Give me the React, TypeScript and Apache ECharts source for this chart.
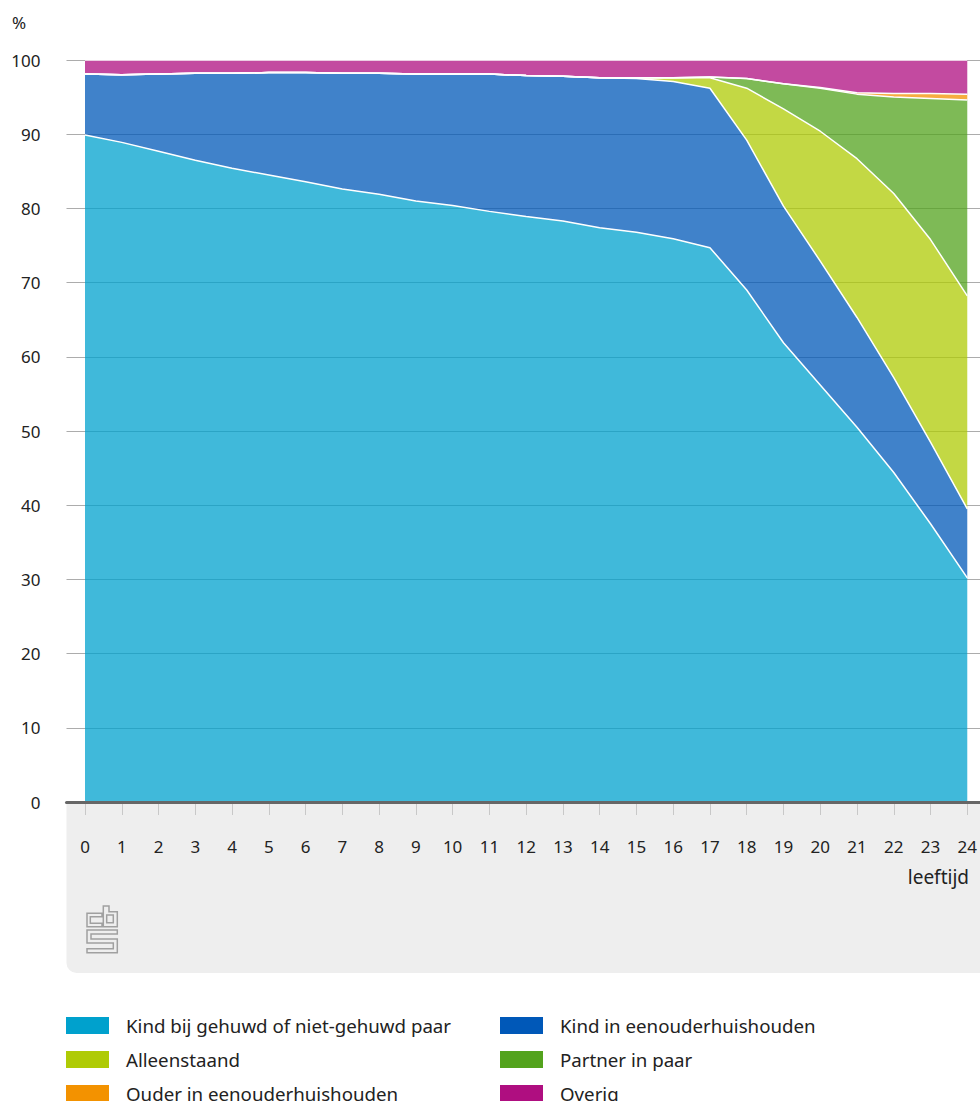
import React, { useEffect, useRef } from "react";
import * as echarts from "echarts";

const ages = [0, 1, 2, 3, 4, 5, 6, 7, 8, 9, 10, 11, 12, 13, 14, 15, 16, 17, 18, 19, 20, 21, 22, 23, 24];

const kindPaar = [89.9, 88.9, 87.7, 86.5, 85.4, 84.5, 83.6, 82.6, 81.9, 81.0, 80.4, 79.6, 78.9, 78.3, 77.4, 76.8, 75.9, 74.7, 69.0, 61.9, 56.2, 50.5, 44.4, 37.5, 30.2];
const kindEenouder = [8.2, 9.1, 10.4, 11.7, 12.8, 13.8, 14.7, 15.6, 16.3, 17.1, 17.7, 18.5, 19.0, 19.5, 20.2, 20.7, 21.2, 21.5, 20.2, 18.4, 16.7, 14.8, 12.8, 11.0, 9.3];
const alleenstaand = [0, 0, 0, 0, 0, 0, 0, 0, 0, 0, 0, 0, 0, 0, 0, 0.1, 0.5, 1.4, 7.0, 13.1, 17.5, 21.4, 24.8, 27.3, 28.7];
const partner = [0, 0, 0, 0, 0, 0, 0, 0, 0, 0, 0, 0, 0, 0, 0, 0, 0, 0.1, 1.3, 3.4, 5.8, 8.7, 13.0, 19.0, 26.4];
const ouder = [0, 0, 0, 0, 0, 0, 0, 0, 0, 0, 0, 0, 0, 0, 0, 0, 0, 0, 0, 0, 0.1, 0.2, 0.5, 0.7, 0.8];
const overig = [1.9, 2.0, 1.9, 1.8, 1.8, 1.7, 1.7, 1.8, 1.8, 1.9, 1.9, 1.9, 2.1, 2.2, 2.4, 2.4, 2.4, 2.3, 2.5, 3.2, 3.7, 4.4, 4.5, 4.5, 4.6];

const seriesNames = [
  "Kind bij gehuwd of niet-gehuwd paar",
  "Kind in eenouderhuishouden",
  "Alleenstaand",
  "Partner in paar",
  "Ouder in eenouderhuishouden",
  "Overig",
];
const seriesColors = ["#00a1cd", "#0058b8", "#afcb05", "#53a31d", "#f39200", "#af0e80"];
const seriesValues = [kindPaar, kindEenouder, alleenstaand, partner, ouder, overig];

const FONT = "'Noto Sans', 'DejaVu Sans', sans-serif";

const logoPath =
  "M15 7.3 H0 V20.7 H15 V17.3 H3.3 V10.7 H15 Z " +
  "M16.3 0 H22 V5.7 H30.3 V20.7 H16.3 Z M19.7 9 V16.7 H26.3 V9 Z " +
  "M0 24 H30.3 V28 H4 V33 H30.3 V46.7 H0 V42.7 H26.3 V37 H0 Z";

echarts.graphic.registerShape("cbslogo", echarts.graphic.extendPath(logoPath, {}));

export default function App() {
  const ref = useRef<HTMLDivElement>(null);

  useEffect(() => {
    document.body.style.margin = "0";
    if (!ref.current) return;
    const chart = echarts.init(ref.current, null, { renderer: "svg" });

    const series = seriesNames.map((name, i) => ({
      name,
      type: "line",
      stack: "total",
      xAxisIndex: 1,
      yAxisIndex: 1,
      data: seriesValues[i],
      showSymbol: false,
      symbol: "none",
      itemStyle: { color: seriesColors[i] },
      lineStyle: { color: "#ffffff", width: 1.5 },
      areaStyle: { color: seriesColors[i], opacity: 0.75 },
      z: 2,
    }));

    const legendText = {
      fontFamily: FONT,
      fontSize: 18.7,
      color: "#222",
      padding: [0, 0, 0, 12],
    };

    const legendPos = [
      { left: 66, top: 1016 },
      { left: 500, top: 1016 },
      { left: 66, top: 1050 },
      { left: 500, top: 1050 },
      { left: 66, top: 1084 },
      { left: 500, top: 1084 },
    ];
    const legends = seriesNames.map((name, i) => ({
      left: legendPos[i].left,
      top: legendPos[i].top,
      padding: 0,
      itemWidth: 43,
      itemHeight: 17,
      icon: "rect",
      selectedMode: false,
      textStyle: legendText,
      data: [{ name, itemStyle: { color: seriesColors[i], opacity: 1 } }],
    }));

    chart.setOption({
      animation: false,
      grid: [
        { left: 66.5, right: 0, top: 60, bottom: 299, containLabel: false },
        { left: 85, right: 9, top: 60, bottom: 299, containLabel: false },
      ],
      xAxis: [
        {
          gridIndex: 0,
          type: "value",
          min: 0,
          max: 1,
          axisLine: { show: true, onZero: false, lineStyle: { color: "#666", width: 3 } },
          axisTick: { show: false },
          axisLabel: { show: false },
          splitLine: { show: false },
          z: 5,
        },
        {
          gridIndex: 1,
          type: "category",
          data: ages,
          boundaryGap: false,
          axisLine: { show: false },
          axisTick: {
            show: true,
            interval: 0,
            length: 13,
            lineStyle: { color: "#c8c8c8", width: 1 },
          },
          axisLabel: {
            show: true,
            interval: 0,
            margin: 36,
            fontFamily: FONT,
            fontSize: 17,
            color: "#222",
          },
          splitLine: { show: false },
        },
      ],
      yAxis: [
        {
          gridIndex: 0,
          type: "value",
          min: 0,
          max: 100,
          interval: 10,
          axisLine: { show: false },
          axisTick: { show: false },
          axisLabel: {
            margin: 26,
            fontFamily: FONT,
            fontSize: 17,
            color: "#222",
          },
          splitLine: { show: true, lineStyle: { color: "#acacac", width: 1.2 } },
        },
        {
          gridIndex: 1,
          type: "value",
          min: 0,
          max: 100,
          interval: 10,
          show: false,
          splitLine: { show: false },
        },
      ],
      legend: legends,
      graphic: [
        {
          type: "rect",
          z: -10,
          silent: true,
          shape: { x: 66.5, y: 802, width: 930, height: 171, r: [0, 0, 0, 10] },
          style: { fill: "#eeeeee" },
        },
        {
          type: "text",
          x: 12,
          y: 22,
          style: {
            text: "%",
            fontFamily: FONT,
            fontSize: 17,
            fill: "#222",
            textAlign: "left",
            textVerticalAlign: "middle",
          },
        },
        {
          type: "text",
          x: 969,
          y: 877,
          style: {
            text: "leeftijd",
            fontFamily: FONT,
            fontSize: 19,
            fill: "#222",
            textAlign: "right",
            textVerticalAlign: "middle",
          },
        },
        {
          type: "cbslogo",
          x: 87,
          y: 906,
          scaleX: 1,
          scaleY: 1,
          style: { fill: "none", stroke: "#a0a0a0", lineWidth: 1.5 },
        },
      ],
      series,
    });

    return () => chart.dispose();
  }, []);

  return <div ref={ref} style={{ width: 980, height: 1101 }} />;
}
